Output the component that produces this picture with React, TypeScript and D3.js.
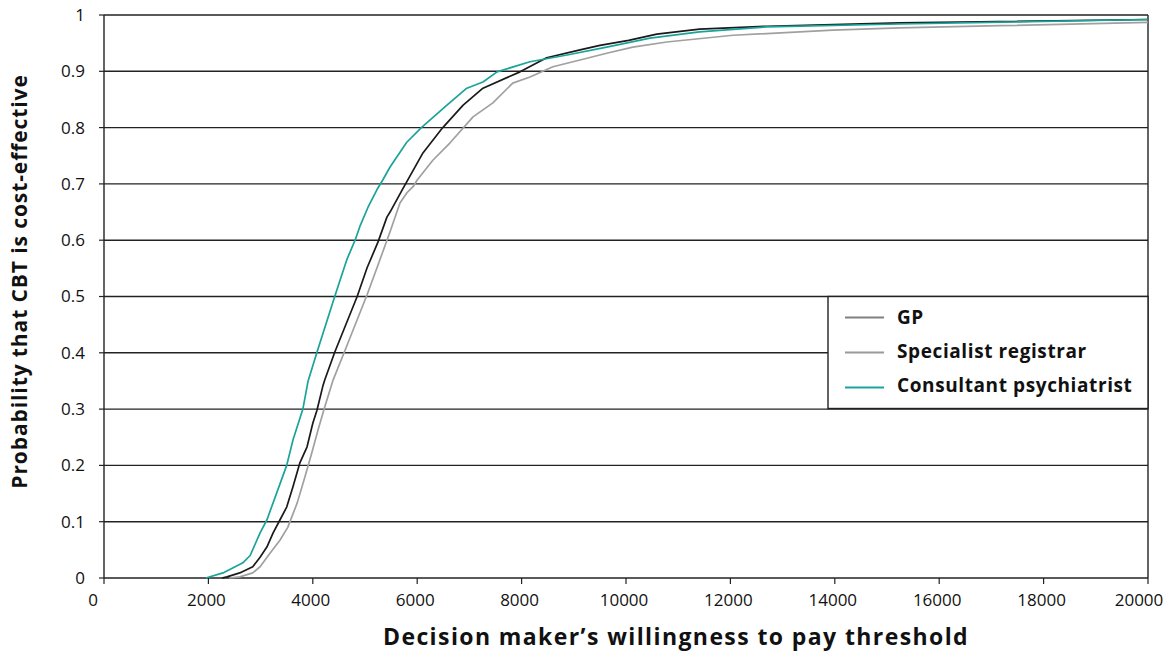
import React from "react";
import * as d3 from "d3";

const yTicks = [0, 0.1, 0.2, 0.3, 0.4, 0.5, 0.6, 0.7, 0.8, 0.9, 1];
const xTicks = [0, 2000, 4000, 6000, 8000, 10000, 12000, 14000, 16000, 18000, 20000];

const gpWtp = [2260, 2355, 2600, 2850, 2990, 3120, 3240, 3370, 3500, 3620, 3750, 3890, 4000, 4080, 4190, 4230, 4420, 4850, 5040, 5250, 5420, 5480, 5710, 6110, 6490, 6880, 7260, 7970, 8480, 9120, 9500, 10050, 10590, 11410, 12700, 15240, 20000];
const gpProb = [0, 0.002, 0.009, 0.02, 0.037, 0.055, 0.08, 0.103, 0.126, 0.162, 0.204, 0.233, 0.275, 0.298, 0.34, 0.352, 0.401, 0.5, 0.551, 0.597, 0.641, 0.65, 0.689, 0.755, 0.8, 0.84, 0.87, 0.899, 0.924, 0.938, 0.946, 0.955, 0.966, 0.975, 0.98, 0.986, 0.992];

const srWtp = [2400, 2600, 2850, 2990, 3180, 3370, 3520, 3700, 3850, 3980, 4100, 4230, 4390, 4620, 5040, 5230, 5480, 5670, 5800, 5920, 6000, 6300, 6630, 7070, 7450, 7830, 8160, 8600, 9120, 9630, 10130, 10780, 12050, 13960, 15240, 17160, 20000];
const srProb = [0, 0.002, 0.009, 0.02, 0.044, 0.067, 0.09, 0.133, 0.18, 0.222, 0.263, 0.304, 0.352, 0.405, 0.503, 0.551, 0.615, 0.666, 0.684, 0.695, 0.707, 0.742, 0.773, 0.819, 0.844, 0.879, 0.89, 0.908, 0.92, 0.932, 0.943, 0.952, 0.964, 0.973, 0.977, 0.981, 0.987];

const cpWtp = [1950, 2280, 2660, 2800, 2990, 3120, 3500, 3620, 3810, 3910, 4080, 4420, 4650, 4810, 4900, 5060, 5230, 5340, 5480, 5800, 6090, 6570, 6950, 7260, 7530, 8160, 8870, 9630, 10460, 11410, 12700, 15240, 20000];
const cpProb = [0, 0.009, 0.027, 0.04, 0.08, 0.103, 0.2, 0.245, 0.3, 0.35, 0.401, 0.5, 0.565, 0.6, 0.624, 0.659, 0.69, 0.707, 0.73, 0.774, 0.801, 0.84, 0.87, 0.881, 0.899, 0.917, 0.929, 0.943, 0.959, 0.97, 0.979, 0.984, 0.992];

const seriesNames = ["GP", "Specialist registrar", "Consultant psychiatrist"];
const legendColors = ["#808080", "#9a9a9a", "#1aa39a"];
const lineColors = ["#1a1a1a", "#a0a0a0", "#1aa39a"];

const W = 1170;
const H = 653;
const left = 104;
const right = 1148;
const top = 15;
const bottom = 578;
const font = "'Open Sans', 'Noto Sans', sans-serif";

export default function App() {
  const x = d3.scaleLinear().domain([0, 20000]).range([left, right]);
  const y = d3.scaleLinear().domain([0, 1]).range([bottom, top]);
  const line = d3
    .line<[number, number]>()
    .x((d) => x(d[0]))
    .y((d) => y(d[1]));

  const series = [
    { wtp: gpWtp, prob: gpProb },
    { wtp: srWtp, prob: srProb },
    { wtp: cpWtp, prob: cpProb },
  ];
  const drawOrder = [1, 0, 2];
  const labelShift = (t: number) => (t === 0 ? -11 : t === 20000 ? -9 : -2);

  return (
    <svg
      width={W}
      height={H}
      style={{ position: "absolute", left: 0, top: 0, background: "#fff" }}
      fontFamily={font}
    >
      {yTicks.map((t) => (
        <line key={"g" + t} x1={left} x2={right} y1={y(t)} y2={y(t)} stroke="#222" strokeWidth={1.4} />
      ))}
      <line x1={right} x2={right} y1={top} y2={bottom} stroke="#222" strokeWidth={1.4} />
      <line x1={left} x2={left} y1={top} y2={bottom} stroke="#222" strokeWidth={1.4} />
      {yTicks.map((t) => (
        <g key={"yt" + t}>
          <line x1={left - 5} x2={left} y1={y(t)} y2={y(t)} stroke="#222" strokeWidth={1.2} />
          <text x={85} y={y(t)} dy="0.35em" textAnchor="end" fontSize={17} fill="#111">
            {t}
          </text>
        </g>
      ))}
      {xTicks.map((t) => (
        <g key={"xt" + t}>
          <line x1={x(t)} x2={x(t)} y1={bottom} y2={bottom + 6} stroke="#222" strokeWidth={1.2} />
          <text x={x(t) + labelShift(t)} y={bottom + 28} textAnchor="middle" fontSize={17} fill="#111">
            {t}
          </text>
        </g>
      ))}
      {drawOrder.map((i) => (
        <path
          key={"s" + i}
          d={line(series[i].wtp.map((v, k) => [v, series[i].prob[k]] as [number, number])) || ""}
          fill="none"
          stroke={lineColors[i]}
          strokeWidth={1.7}
          strokeLinejoin="round"
        />
      ))}
      <rect x={828} y={y(0.5)} width={right - 828} height={112} fill="#fff" stroke="#222" strokeWidth={1.4} />
      {seriesNames.map((n, i) => (
        <g key={"l" + n}>
          <line x1={845} x2={884} y1={y(0.5) + 21 + i * 35} y2={y(0.5) + 21 + i * 35} stroke={legendColors[i]} strokeWidth={2} />
          <text x={897} y={y(0.5) + 21 + i * 34} dy="0.35em" fontSize={19} letterSpacing={0.6} fontWeight="bold" fill="#111">
            {n}
          </text>
        </g>
      ))}
      <text x={676} y={645} textAnchor="middle" fontSize={23} letterSpacing={1.4} fontWeight="bold" fill="#111">
        Decision maker’s willingness to pay threshold
      </text>
      <text
        transform={`translate(27, ${(top + bottom) / 2 - 15}) rotate(-90)`}
        textAnchor="middle"
        fontSize={21}
        letterSpacing={0.9}
        fontWeight="bold"
        fill="#111"
      >
        Probability that CBT is cost-effective
      </text>
    </svg>
  );
}
